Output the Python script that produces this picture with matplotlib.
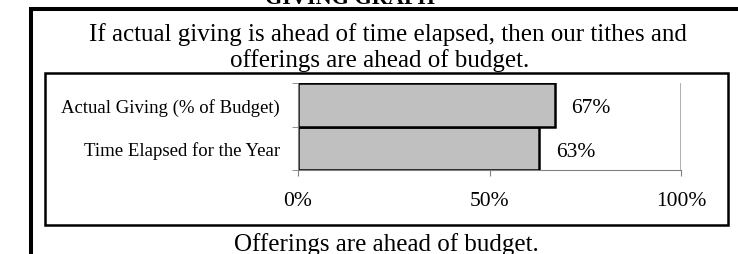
import matplotlib
matplotlib.use("Agg")
import matplotlib.pyplot as plt
from matplotlib.patches import Rectangle
from matplotlib.lines import Line2D

plt.rcParams['font.family'] = ['Liberation Serif', 'DejaVu Serif']

# data
categories = ['Time Elapsed for the Year', 'Actual Giving (% of Budget)']
values = [0.63, 0.67]
bar_labels = ['63%', '67%']
x_ticks = [0, 0.5, 1.0]
x_ticklabels = ['0%', '50%', '100%']
heading = 'GIVING GRAPH'
title_lines = ['If actual giving is ahead of time elapsed, then our tithes and',
               'offerings are ahead of budget.']
footer = 'Offerings are ahead of budget.'

W, H = 738, 255
fig = plt.figure(figsize=(W / 100, H / 100), dpi=100)

def fx(px):
    return px / W

def fy(py):
    return 1 - py / H

# outer frame (top and left edges visible only)
fig.add_artist(Line2D([fx(31), fx(738)], [fy(10), fy(10)], color='black', lw=2.9,
                      transform=fig.transFigure, solid_capstyle='butt'))
fig.add_artist(Line2D([fx(31), fx(31)], [fy(8), fy(255)], color='black', lw=2.9,
                      transform=fig.transFigure, solid_capstyle='butt'))

# inner chart box
fig.add_artist(Rectangle((fx(45), fy(226)), fx(728) - fx(45), fy(74) - fy(226),
                         fill=False, edgecolor='black', lw=1.8,
                         transform=fig.transFigure))

# heading is cut off by the top edge in the original screenshot
fig.text(fx(350), fy(4), heading, ha='center', va='baseline',
         fontsize=16, fontweight='bold')
fig.text(fx(388), fy(35), title_lines[0], ha='center', va='center', fontsize=18)
fig.text(fx(380), fy(61), title_lines[1], ha='center', va='center', fontsize=18)
fig.text(fx(386), fy(245), footer, ha='center', va='center', fontsize=18)

ax = fig.add_axes([fx(298), fy(171), fx(681) - fx(298), fy(84) - fy(171)])
ypos = range(len(categories))
ax.barh(ypos, values, height=1.0, color='#c0c0c0', edgecolor='black', lw=1.8, zorder=3)
for y, v, lab in zip(ypos, values, bar_labels):
    ax.annotate(lab, (v, y), xytext=(12, -2), textcoords='offset points',
                ha='left', va='center', fontsize=15.5)

ax.set_xlim(0, 1)
ax.set_ylim(-0.5, len(categories) - 0.5)
ax.set_xticks(x_ticks)
ax.set_xticklabels(x_ticklabels, fontsize=15.5)
ax.set_yticks(list(ypos))
ax.set_yticklabels(categories, fontsize=13.5)
ax.set_yticks([-0.5, 0.5, 1.5], minor=True)
ax.grid(axis='x', color='#999999', lw=1.1, zorder=0)
ax.tick_params(axis='x', length=4, color='#808080', pad=11)
ax.tick_params(axis='y', which='major', length=0, pad=13)
ax.tick_params(axis='y', which='minor', length=4, color='#808080')
for s in ['top', 'right']:
    ax.spines[s].set_visible(False)
for s in ['left', 'bottom']:
    ax.spines[s].set_color('#808080')
ax.spines['left'].set_zorder(4)

fig.savefig('out.png', dpi=100)
